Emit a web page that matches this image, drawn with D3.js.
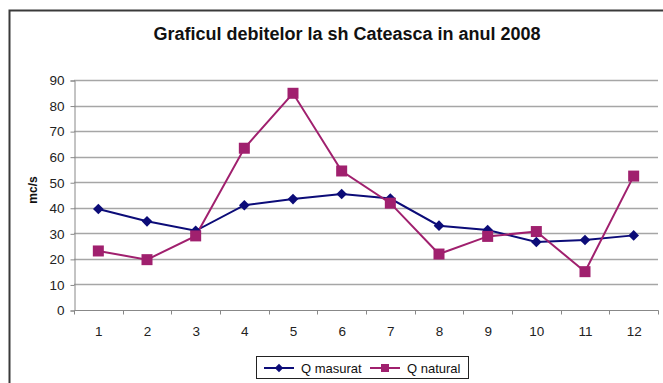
<!DOCTYPE html>
<html><head><meta charset="utf-8">
<script src="https://cdn.jsdelivr.net/npm/d3@7"></script>
<style>body{margin:0;background:#fff}svg{display:block;font-family:"Liberation Sans",Arial,sans-serif}</style>
</head><body><svg id="c" width="663" height="383"></svg>
<script>
const months = ["1","2","3","4","5","6","7","8","9","10","11","12"];
const qMasurat = [39.5, 34.7, 31.0, 41.0, 43.4, 45.4, 43.6, 33.0, 31.3, 26.6, 27.4, 29.2];
const qNatural = [23.1, 19.7, 29.0, 63.3, 84.8, 54.4, 41.8, 21.9, 28.8, 30.7, 15.0, 52.4];
const yTicks = [0,10,20,30,40,50,60,70,80,90];
const seriesNames = ["Q masurat","Q natural"];
const title = "Graficul debitelor la sh Cateasca in anul 2008";
const yTitle = "mc/s";

const svg = d3.select("#c");
const x = d3.scaleBand().domain(months).range([74, 658]);
const y = d3.scaleLinear().domain([0, 90]).range([310, 80]);
const colors = ["#0c0c78", "#a0206e"];

// frame
svg.append("path").attr("d", "M9.5,383V10.5H663").attr("fill","none").attr("stroke","#3a3a3a").attr("stroke-width",2);

// title
svg.append("text").attr("x", 347).attr("y", 40).attr("text-anchor","middle")
  .attr("font-size", 18).attr("font-weight","bold").attr("fill","#111").text(title);

// gridlines
svg.append("g").selectAll("line").data(yTicks.filter(d=>d>0)).join("line")
  .attr("x1", 74).attr("x2", 658).attr("y1", d=>Math.round(y(d))+0.5).attr("y2", d=>Math.round(y(d))+0.5)
  .attr("stroke","#a6a6a6").attr("stroke-width",1.5);

// y axis
const ya = svg.append("g").attr("transform","translate(74.5,0.5)")
  .call(d3.axisLeft(y).tickValues(yTicks).tickSize(4).tickPadding(6));
ya.select(".domain").attr("stroke","#888");
ya.selectAll(".tick line").attr("stroke","#888");
ya.selectAll("text").attr("font-size",13.5).attr("fill","#222").attr("font-family","Liberation Sans, Arial");

// x axis
const xa = svg.append("g").attr("transform","translate(0.5,310.5)")
  .call(d3.axisBottom(x).tickSize(0).tickPadding(16));
xa.select(".domain").attr("stroke","#888").attr("d","M74,0H658");
xa.selectAll("text").attr("font-size",13.5).attr("fill","#222").attr("font-family","Liberation Sans, Arial");
const edges = months.map(m=>x(m)).concat([x.range()[1]]);
xa.append("g").selectAll("line").data(edges).join("line")
  .attr("x1", d=>Math.round(d)).attr("x2", d=>Math.round(d)).attr("y1",0).attr("y2",4).attr("stroke","#888");

// y title
svg.append("text").attr("transform","translate(37,190) rotate(-90)").attr("text-anchor","middle")
  .attr("font-size",12).attr("font-weight","bold").attr("fill","#111").text(yTitle);

const cx = d => x(d) + x.bandwidth()/2;
const line = d3.line().x((d,i)=>cx(months[i])).y(d=>y(d));

const data = [qMasurat, qNatural];
data.forEach((vals, s) => {
  svg.append("path").datum(vals).attr("d", line).attr("fill","none")
    .attr("stroke", colors[s]).attr("stroke-width", 2);
});
// markers
svg.append("g").selectAll("path").data(qMasurat).join("path")
  .attr("d", d3.symbol(d3.symbolDiamond2, 72)).attr("fill", colors[0])
  .attr("transform",(d,i)=>`translate(${cx(months[i])},${y(d)})`);
svg.append("g").selectAll("rect").data(qNatural).join("rect")
  .attr("x",(d,i)=>cx(months[i])-5.5).attr("y",d=>y(d)-5.5).attr("width",11).attr("height",11)
  .attr("fill", colors[1]);

// legend
const lg = svg.append("g");
lg.append("rect").attr("x",256.5).attr("y",356.5).attr("width",212).attr("height",22)
  .attr("fill","#fff").attr("stroke","#222").attr("stroke-width",1);
const lx = [264, 370];
seriesNames.forEach((n,s)=>{
  lg.append("line").attr("x1",lx[s]).attr("x2",lx[s]+30).attr("y1",368).attr("y2",368)
    .attr("stroke",colors[s]).attr("stroke-width",2);
  if (s===0) lg.append("path").attr("d", d3.symbol(d3.symbolDiamond2, 45)).attr("fill",colors[0])
    .attr("transform",`translate(${lx[s]+15},368)`);
  else lg.append("rect").attr("x",lx[s]+11).attr("y",364).attr("width",8).attr("height",8).attr("fill",colors[1]);
  lg.append("text").attr("x",lx[s]+37).attr("y",372.5).attr("font-size",13).attr("fill","#111").text(n);
});
</script></body></html>
